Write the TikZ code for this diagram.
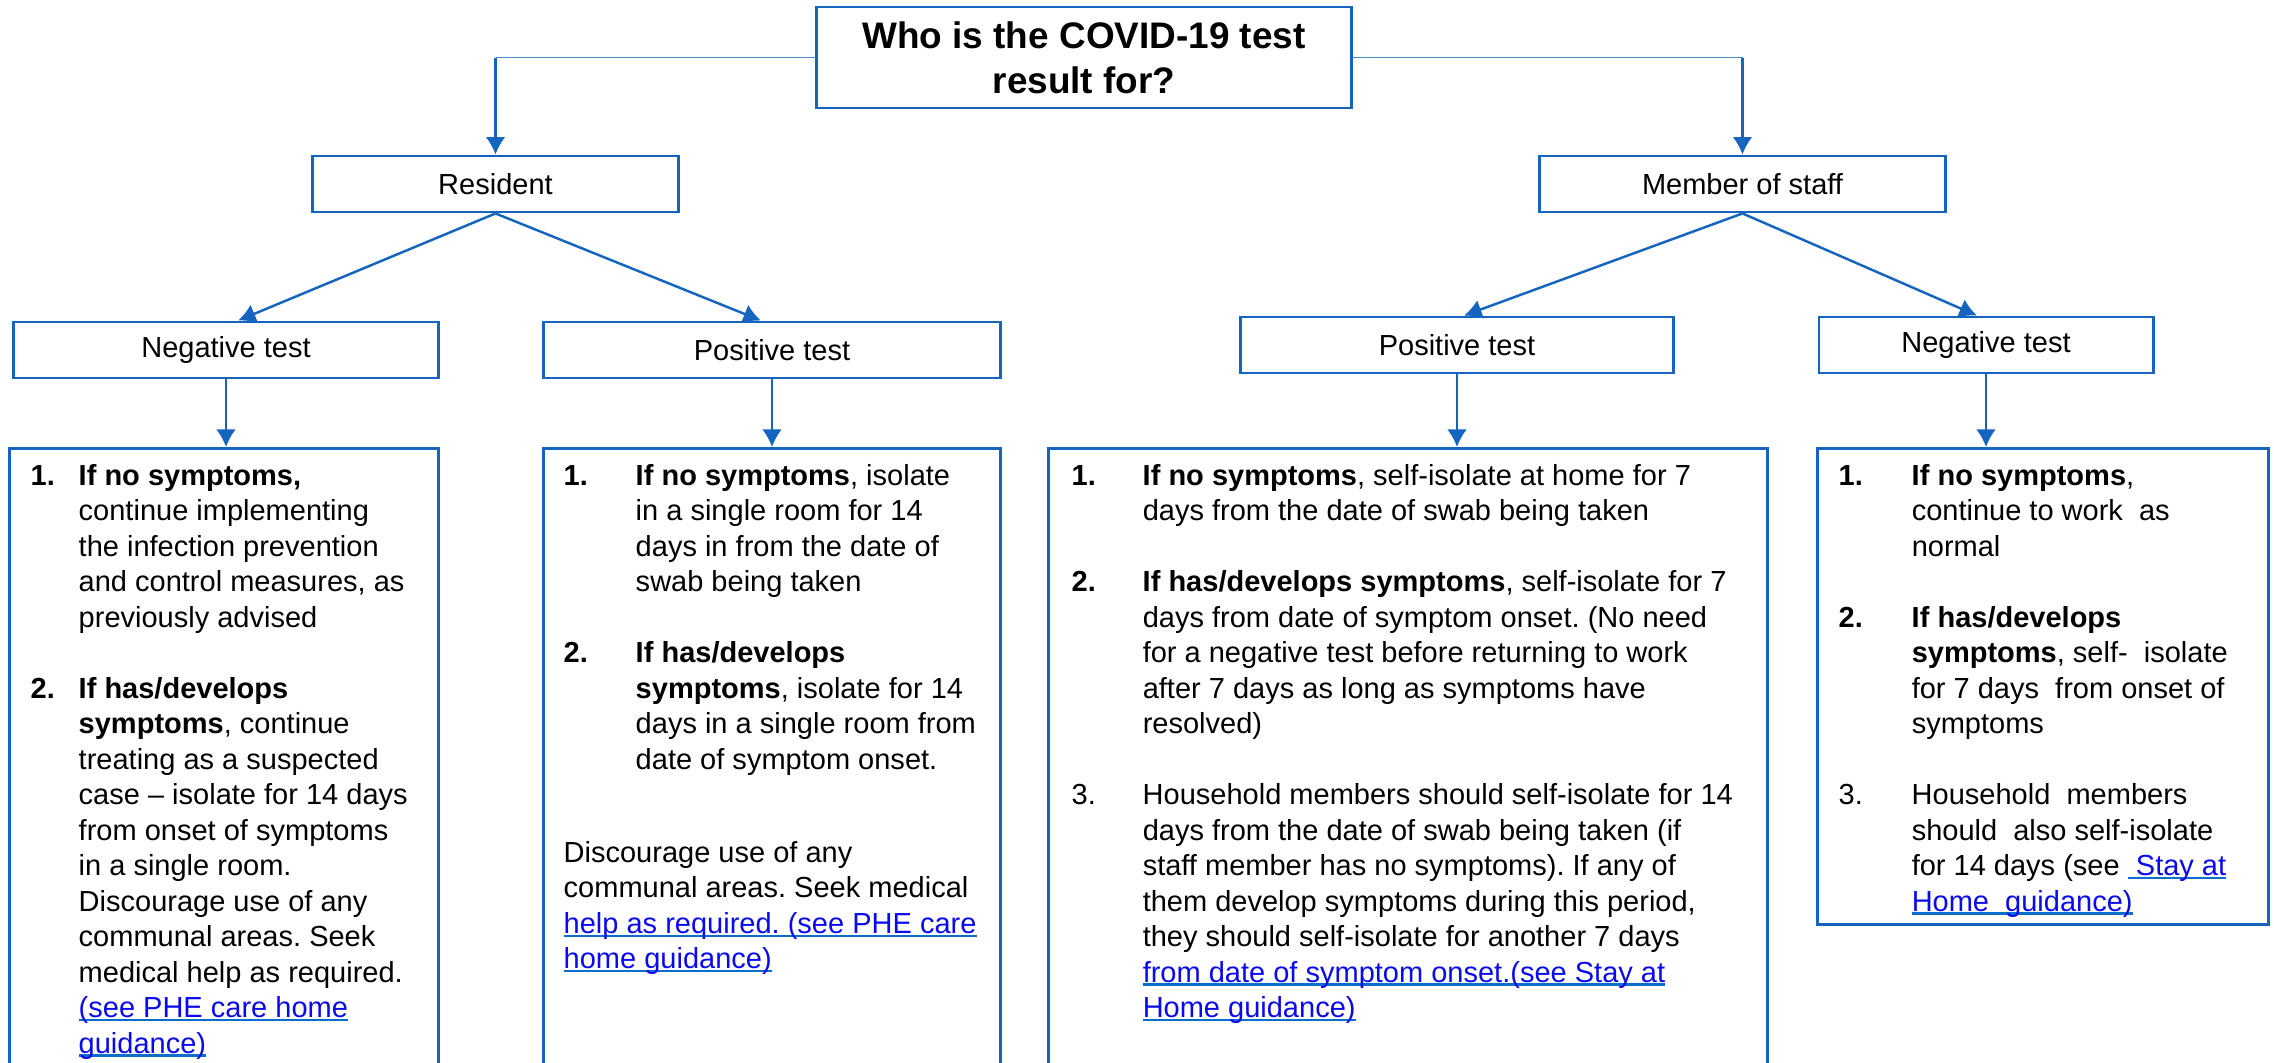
\documentclass[tikz,border=0pt]{standalone}
\usepackage{fontspec}
\setmainfont{Liberation Sans}
\usetikzlibrary{arrows.meta}
\definecolor{boxblue}{HTML}{1565C0}
\definecolor{lineblue}{HTML}{4A8AD6}
\definecolor{linkblue}{HTML}{0A0AEE}
\definecolor{ulblue}{HTML}{0A6FCC}
\frenchspacing
\newcommand{\bodyfont}{\fontsize{8.25pt}{10.1pt}\selectfont}
\newcommand{\titlefont}{\fontsize{10.5pt}{12.8pt}\selectfont\bfseries}
\newsavebox\lnkbox
\newcommand{\lnk}[1]{\sbox\lnkbox{\color{linkblue}#1}\rlap{\color{ulblue}\rule[-0.12em]{\wd\lnkbox}{0.08em}}\usebox\lnkbox}
\tikzset{
  lbl/.style={draw=boxblue, line width=0.8pt, minimum height=0.56cm, inner sep=0pt, font=\bodyfont},
  panel/.style={draw=boxblue, line width=0.8pt, anchor=north, inner sep=0pt},
  txt/.style={anchor=base west, inner sep=0pt, font=\bodyfont},
  arr/.style={->, draw=boxblue, line width=0.7pt},
}
\begin{document}
\begin{tikzpicture}[>={Latex[length=5pt,width=5.6pt]}, x=0.01cm, y=-0.01cm]
    \useasboundingbox (0,0) rectangle (2274,1062);
    % question and the two groups
    \node[draw=boxblue, line width=0.8pt, minimum width=5.34cm, minimum height=1.01cm, align=center, font=\titlefont] (title) at (1084,57.5) {Who is the COVID-19 test\\result for?};
    \node[lbl, minimum width=3.65cm] (res) at (495.5,184) {Resident};
    \node[lbl, minimum width=4.05cm] (staff) at (1742.5,184) {Member of staff};
    % test results
    \node[lbl, minimum width=4.24cm] (negres) at (226,350) {Negative test};
    \node[lbl, minimum width=4.56cm] (posres) at (772,350) {Positive test};
    \node[lbl, minimum width=4.32cm] (posstaff) at (1457,345) {Positive test};
    \node[lbl, minimum width=3.34cm] (negstaff) at (1986,345) {Negative test};
    % advice panels
    \node[panel, minimum width=4.28cm, minimum height=6.6cm] (pnegres) at (224,447) {};
    \node[panel, minimum width=4.56cm, minimum height=6.6cm] (pposres) at (772,447) {};
    \node[panel, minimum width=7.18cm, minimum height=6.6cm] (pposstaff) at (1408,447) {};
    \node[panel, minimum width=4.50cm, minimum height=4.76cm] (pnegstaff) at (2043,447) {};
    % connectors
    \draw[lineblue, line width=0.45pt] (title.west) -- (title.west -| res.north);
    \draw[lineblue, line width=0.45pt] (title.east) -- (title.east -| staff.north);
    \draw[arr] (title.west -| res.north) -- (res.north);
    \draw[arr] (title.east -| staff.north) -- (staff.north);
    \draw[arr] (res.south) -- ([xshift=0.12cm]negres.north);
    \draw[arr] (res.south) -- ([xshift=-0.11cm]posres.north);
    \draw[arr] (staff.south) -- ([xshift=0.07cm]posstaff.north);
    \draw[arr] (staff.south) -- ([xshift=-0.09cm]negstaff.north);
    \draw[arr] (negres.south) -- (negres.south |- pnegres.north);
    \draw[arr] (posres.south) -- (posres.south |- pposres.north);
    \draw[arr] (posstaff.south) -- (posstaff.south |- pposstaff.north);
    \draw[arr] (negstaff.south) -- (negstaff.south |- pnegstaff.north);
    % panel texts
    \node[txt] (tnegres) at (30,485) {\begin{tabular}[t]{@{}p{0.48cm}@{}l@{}}
        \textbf{1.} & \textbf{If no symptoms,}\\
        & continue implementing\\
        & the infection prevention\\
        & and control measures, as\\
        & previously advised\\
        & \\
        \textbf{2.} & \textbf{If has/develops}\\
        & \textbf{symptoms}, continue\\
        & treating as a suspected\\
        & case -- isolate for 14 days\\
        & from onset of symptoms\\
        & in a single room.\\
        & Discourage use of any\\
        & communal areas. Seek\\
        & medical help as required.\\
        & \lnk{(see PHE care home}\\
        & \lnk{guidance)}
    \end{tabular}};
    \node[txt] (tposres) at (563,485) {\begin{tabular}[t]{@{}p{0.72cm}@{}l@{}}
        \textbf{1.} & \textbf{If no symptoms}, isolate\\
        & in a single room for 14\\
        & days in from the date of\\
        & swab being taken\\
        & \\
        \textbf{2.} & \textbf{If has/develops}\\
        & \textbf{symptoms}, isolate for 14\\
        & days in a single room from\\
        & date of symptom onset.\\
        & \\[6.3pt]
        \multicolumn{2}{@{}l@{}}{Discourage use of any}\\
        \multicolumn{2}{@{}l@{}}{communal areas. Seek medical}\\
        \multicolumn{2}{@{}l@{}}{\lnk{help as required. (see PHE care}}\\
        \multicolumn{2}{@{}l@{}}{\lnk{home guidance)}}
    \end{tabular}};
    \node[txt] (tposstaff) at (1071,485) {\begin{tabular}[t]{@{}p{0.71cm}@{}l@{}}
        \textbf{1.} & \textbf{If no symptoms}, self-isolate at home for 7\\
        & days from the date of swab being taken\\
        & \\
        \textbf{2.} & \textbf{If has/develops symptoms}, self-isolate for 7\\
        & days from date of symptom onset. (No need\\
        & for a negative test before returning to work\\
        & after 7 days as long as symptoms have\\
        & resolved)\\
        & \\
        3. & Household members should self-isolate for 14\\
        & days from the date of swab being taken (if\\
        & staff member has no symptoms). If any of\\
        & them develop symptoms during this period,\\
        & they should self-isolate for another 7 days\\
        & \lnk{from date of symptom onset.(see Stay at}\\
        & \lnk{Home guidance)}
    \end{tabular}};
    \node[txt] (tnegstaff) at (1838,485) {\begin{tabular}[t]{@{}p{0.73cm}@{}l@{}}
        \textbf{1.} & \textbf{If no symptoms},\\
        & continue to work\ \ as\\
        & normal\\
        & \\
        \textbf{2.} & \textbf{If has/develops}\\
        & \textbf{symptoms}, self-\ \ isolate\\
        & for 7 days\ \ from onset of\\
        & symptoms\\
        & \\
        3. & Household\ \ members\\
        & should\ \ also self-isolate\\
        & for 14 days (see \lnk{\ Stay at}\\
        & \lnk{Home\ \ guidance)}
    \end{tabular}};
\end{tikzpicture}
\end{document}
